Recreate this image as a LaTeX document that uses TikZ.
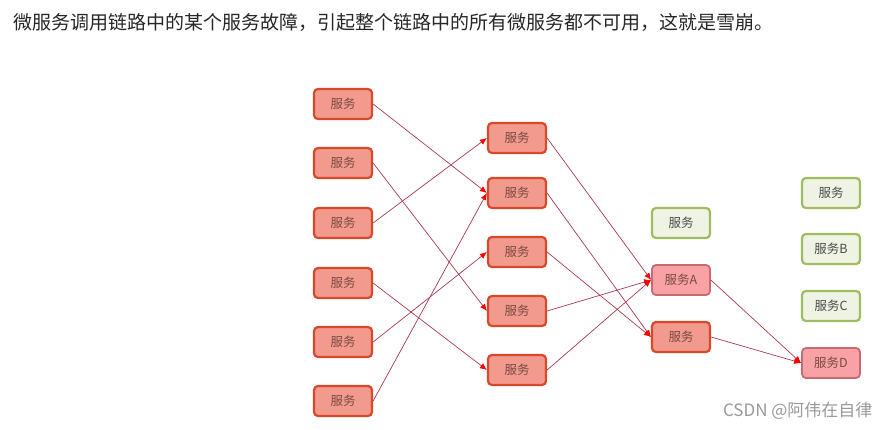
\documentclass[tikz,border=0pt]{standalone}
\usepackage{fontspec}
\setmainfont{Noto Sans CJK SC}
\usepackage{xcolor}
\usetikzlibrary{arrows.meta,positioning}
\definecolor{svcfill}{HTML}{F39A8E}
\definecolor{svcdraw}{HTML}{D8492C}
\definecolor{svctext}{HTML}{7A4A42}
\definecolor{hitfill}{HTML}{F9A2A6}
\definecolor{hitdraw}{HTML}{C76A74}
\definecolor{okfill}{HTML}{EEF3E3}
\definecolor{okdraw}{HTML}{A0BC63}
\definecolor{callline}{HTML}{A8394C}
\tikzset{
  >={Latex[length=7pt,width=6pt]},
  svc/.style={draw=svcdraw, line width=2.2pt, fill=svcfill, rounded corners=4pt, minimum width=58pt, minimum height=30pt, inner sep=0pt, text=svctext, font=\fontsize{12.5}{14}\selectfont},
  svchit/.style={svc, draw=hitdraw, fill=hitfill, line width=1.8pt},
  svcok/.style={svc, draw=okdraw, fill=okfill, text=black!70},
  call/.style={->, draw=callline, line width=0.7pt, >={Latex[length=7pt,width=6pt,color=red]}},
}

\begin{document}
\begin{tikzpicture}[x=1pt, y=-1pt]
  \useasboundingbox (0,0) rectangle (890,429);
  \node[anchor=west, font=\fontsize{19}{21}\selectfont, text=black!85] (title) at (10,22)
    {微服务调用链路中的某个服务故障，引起整个链路中的所有微服务都不可用，这就是雪崩。};
  % caller column
  \node[svc] (l1) at (343,104) {服务};
  \node[svc] (l2) at (343,163) {服务};
  \node[svc] (l3) at (343,223) {服务};
  \node[svc] (l4) at (343,283) {服务};
  \node[svc] (l5) at (343,342) {服务};
  \node[svc] (l6) at (343,401) {服务};
  % middle column
  \node[svc] (m1) at (517,138) {服务};
  \node[svc] (m2) at (517,193) {服务};
  \node[svc] (m3) at (517,252) {服务};
  \node[svc] (m4) at (517,311) {服务};
  \node[svc] (m5) at (517,370) {服务};
  % third column
  \node[svcok] (r1) at (681,223) {服务};
  \node[svchit] (a) at (681,280) {服务A};
  \node[svc] (r3) at (681,337) {服务};
  % last column
  \node[svcok] (s1) at (831,193) {服务};
  \node[svcok] (b) at (831,249) {服务B};
  \node[svcok] (c) at (831,306) {服务C};
  \node[svchit] (d) at (831,363) {服务D};
  \draw[call] (l1.east) -- (m2.west);
  \draw[call] (l2.east) -- (m4.west);
  \draw[call] (l3.east) -- (m1.west);
  \draw[call] (l4.east) -- (m5.west);
  \draw[call] (l5.east) -- (m3.west);
  \draw[call] (l6.east) -- (m2.west);
  \draw[call] (m1.east) -- (a.west);
  \draw[call] (m2.east) -- (r3.west);
  \draw[call] (m3.east) -- (r3.west);
  \draw[call] (m4.east) -- (a.west);
  \draw[call] (m5.east) -- (a.west);
  \draw[call] (a.east) -- (d.west);
  \draw[call] (r3.east) -- (d.west);
  \node[anchor=east, text=black!40, font=\fontsize{17}{19}\selectfont] (mark) at (876,411) {CSDN @阿伟在自律};
\end{tikzpicture}
\end{document}
